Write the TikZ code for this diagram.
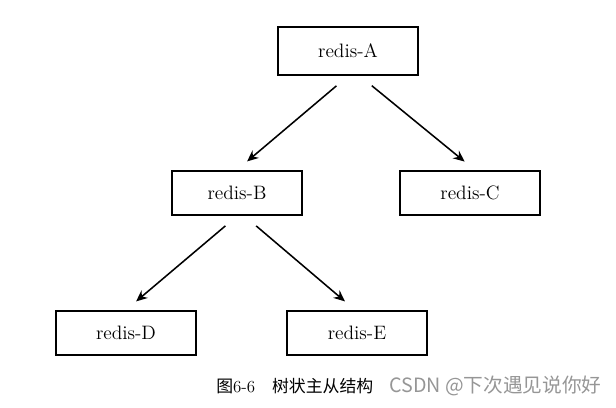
\documentclass[tikz,border=0pt]{standalone}
\usepackage{fontspec}
\usepackage{tikz}
\usetikzlibrary{arrows.meta}
\newfontfamily\cjk{Noto Sans CJK SC}
\definecolor{mark}{RGB}{150,150,150}

\begin{document}
\begin{tikzpicture}[x=0.025cm,y=-0.025cm,
  redis/.style={draw,line width=1.5pt,minimum width=3.5cm,minimum height=1.1cm,
    inner sep=0pt,font=\fontsize{13.8}{15}\selectfont},
  link/.style={line width=1.1pt,-{Stealth[length=8pt,width=7pt]},shorten <=0.38cm,shorten >=0.33cm}]
\useasboundingbox (0,0) rectangle (616,407);
\node[redis,minimum height=1.2cm] (A) at (348,51) {redis-A};
\node[redis,minimum width=3.25cm] (B) at (237,193) {redis-B};
\node[redis] (C) at (470,193) {redis-C};
\node[redis] (D) at (126,333) {redis-D};
\node[redis] (E) at (357,333) {redis-E};
\draw[link] (A.south) -- (B.north);
\draw[link] ([xshift=0.3cm]A.south) -- ([xshift=0.12cm]C.north);
\draw[link] (B.south) -- (D.north);
\draw[link] ([xshift=0.19cm]B.south) -- ([xshift=-0.05cm]E.north);
\node[anchor=west,inner sep=0pt,font=\fontsize{12}{14}\selectfont] (cap) at (216,386)
  {{\cjk 图}6-6\hspace{1em}{\cjk 树状主从结构}};
\node[anchor=west,inner sep=0pt,text=mark,font=\cjk\fontsize{14}{16}\selectfont] (src) at (389,386)
  {CSDN @下次遇见说你好};
\end{tikzpicture}
\end{document}
